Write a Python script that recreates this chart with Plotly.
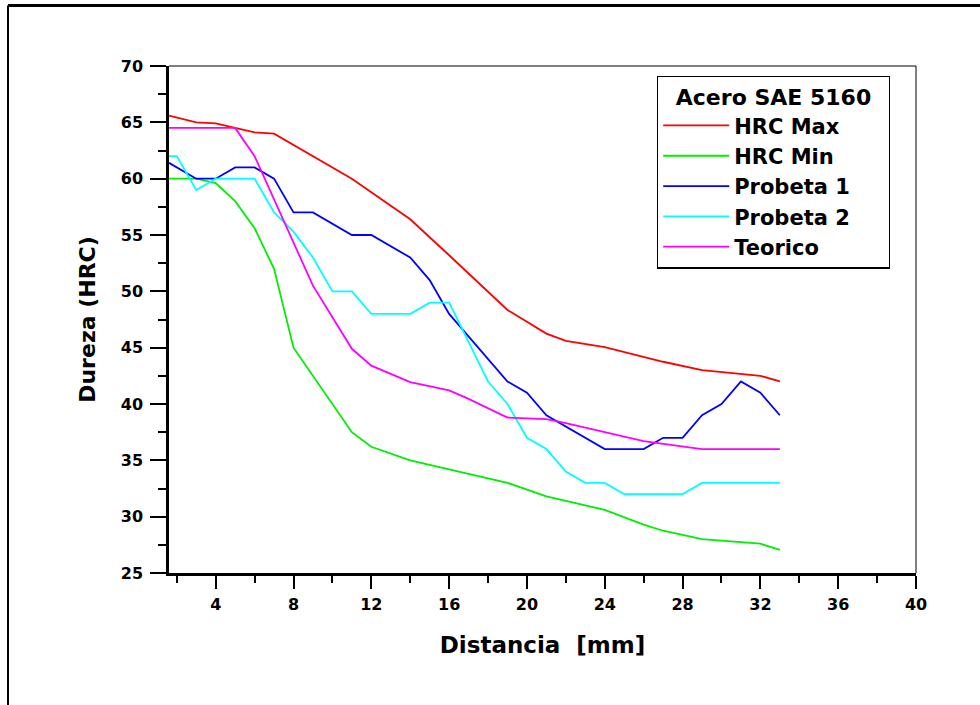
import plotly.graph_objects as go

# ---- data ----
x_max = [1.6, 3, 4, 5, 6, 7, 11, 12, 14, 16, 19, 21, 22, 24, 27, 29, 32, 33]
hrc_max = [65.6, 65.0, 64.9, 64.5, 64.1, 64.0, 60.0, 58.8, 56.4, 53.2, 48.35, 46.25, 45.6, 45.05, 43.75, 43.0, 42.5, 42.0]

x_min = [1.6, 3, 4, 5, 6, 7, 8, 11, 12, 14, 19, 21, 24, 26, 27, 29, 32, 33]
hrc_min = [60.0, 60.0, 59.6, 58.0, 55.6, 52.0, 45.0, 37.5, 36.2, 35.0, 33.0, 31.8, 30.6, 29.3, 28.75, 28.0, 27.6, 27.05]

x_p1 = [1.6, 3, 4, 5, 6, 7, 8, 9, 11, 12, 14, 15, 16, 19, 20, 21, 24, 26, 27, 28, 29, 30, 31, 32, 33]
probeta1 = [61.4, 60, 60, 61, 61, 60, 57, 57, 55, 55, 53, 51, 48, 42, 41, 39, 36, 36, 37, 37, 39, 40, 42, 41, 39]

x_p2 = [1.6, 2, 3, 4, 6, 7, 8, 9, 10, 11, 12, 14, 15, 16, 18, 19, 20, 21, 22, 23, 24, 25, 28, 29, 33]
probeta2 = [62, 62, 59, 60, 60, 57, 55.3, 53, 50, 50, 48, 48, 49, 49, 42, 40, 37, 36, 34, 33, 33, 32, 32, 33, 33]

x_teo = [1.6, 5, 6, 9, 11, 12, 14, 16, 17, 19, 21, 22, 26, 29, 33]
teorico = [64.5, 64.5, 62.0, 50.5, 44.9, 43.4, 41.95, 41.2, 40.45, 38.8, 38.65, 38.3, 36.7, 36.0, 36.0]

series_names = ["HRC Max", "HRC Min", "Probeta 1", "Probeta 2", "Teorico"]
series_colors = ["#ff0000", "#00ee00", "#0000ff", "#00ffff", "#ff00ff"]
series_x = [x_max, x_min, x_p1, x_p2, x_teo]
series_y = [hrc_max, hrc_min, probeta1, probeta2, teorico]

x_title = "Distancia  [mm]"
y_title = "Dureza (HRC)"
legend_title = "Acero SAE 5160"

# ---- layout geometry ----
W, H = 980, 705
ML, MR, MT, MB = 169, 64, 66, 132
PW, PH = W - ML - MR, H - MT - MB


def px_x(px):
    return (px - ML) / PW


def px_y(py):
    return (H - MB - py) / PH


FONT = "DejaVu Sans"
NB = "\u00a0"

fig = go.Figure()
for name, col, xs, ys in zip(series_names, series_colors, series_x, series_y):
    fig.add_trace(go.Scatter(x=xs, y=ys, mode="lines", name=name,
                             line=dict(color=col, width=1.8)))

fig.update_layout(
    width=W, height=H,
    margin=dict(l=ML, r=MR, t=MT, b=MB, pad=0),
    paper_bgcolor="white", plot_bgcolor="white",
    font=dict(family=FONT, color="black", weight="bold"),
    showlegend=True,
    legend=dict(
        x=px_x(657), y=px_y(75.5), xanchor="left", yanchor="top",
        bordercolor="black", borderwidth=1.2, bgcolor="white",
        font=dict(family=FONT, size=21, color="black", weight="bold"),
        title=dict(text=NB * 2 + legend_title + NB * 2, side="top center",
                   font=dict(family=FONT, size=22, color="black", weight="bold")),
        itemwidth=66,
    ),
    xaxis=dict(
        range=[1.6, 40], tickmode="linear", tick0=0, dtick=4,
        showgrid=False, zeroline=False,
        showline=True, linecolor="black", linewidth=2.5,
        ticks="outside", ticklen=13, tickwidth=2, tickcolor="black",
        minor=dict(dtick=2, tick0=0, ticks="outside", ticklen=7, tickwidth=2, tickcolor="black", showgrid=False),
        tickfont=dict(family=FONT, size=16, color="black", weight="bold"),
        ticklabelstandoff=2,
        title=dict(text=x_title, standoff=24,
                   font=dict(family=FONT, size=23, color="black", weight="bold")),
    ),
    yaxis=dict(
        range=[25, 70], tickmode="linear", tick0=0, dtick=5,
        showgrid=False, zeroline=False,
        showline=True, linecolor="black", linewidth=2.5,
        ticks="outside", ticklen=16, tickwidth=2, tickcolor="black",
        minor=dict(dtick=2.5, tick0=0, ticks="outside", ticklen=8, tickwidth=2, tickcolor="black", showgrid=False),
        tickfont=dict(family=FONT, size=16, color="black", weight="bold"),
        ticklabelstandoff=4,
        title=dict(text=y_title, standoff=20,
                   font=dict(family=FONT, size=22, color="black", weight="bold")),
    ),
)

# thin top and right frame of the plot box
fig.add_shape(type="line", xref="paper", yref="paper", x0=0, x1=1, y0=1, y1=1,
              line=dict(color="black", width=1))
fig.add_shape(type="line", xref="paper", yref="paper", x0=1, x1=1, y0=0, y1=1,
              line=dict(color="black", width=1))
# outer page frame (top and left)
fig.add_shape(type="line", xref="paper", yref="paper", x0=px_x(8), x1=px_x(981),
              y0=px_y(5.5), y1=px_y(5.5), line=dict(color="black", width=3))
fig.add_shape(type="line", xref="paper", yref="paper", x0=px_x(8), x1=px_x(8),
              y0=px_y(5.5), y1=px_y(706), line=dict(color="black", width=2))

fig.write_html("out.html", config={"displayModeBar": False},
               post_script="document.body.style.margin='0';")
